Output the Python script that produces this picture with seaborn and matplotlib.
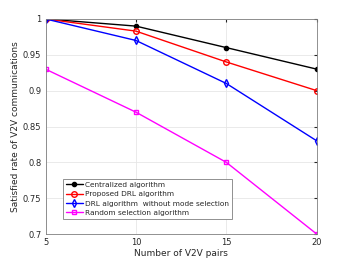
import numpy as np
import pandas as pd
import matplotlib
matplotlib.use('Agg')
import matplotlib.pyplot as plt
import seaborn as sns

pairs = [5, 10, 15, 20]
centralized = [1.0, 0.99, 0.96, 0.93]
proposed_drl = [1.0, 0.983, 0.94, 0.90]
drl_no_mode = [1.0, 0.97, 0.91, 0.83]
random_sel = [0.93, 0.87, 0.80, 0.70]

series = [
    ('Centralized algorithm', centralized, 'black', 'o', True, 3.0),
    ('Proposed DRL algorithm', proposed_drl, 'red', 'o', False, 4.0),
    ('DRL algorithm  without mode selection', drl_no_mode, 'blue', 'd', False, 4.0),
    ('Random selection algorithm', random_sel, 'magenta', 's', False, 3.5),
]

rows = []
for name, vals, *_ in series:
    for x, y in zip(pairs, vals):
        rows.append({'pairs': x, 'rate': y, 'algo': name})
df = pd.DataFrame(rows)

sns.set_style('whitegrid')
plt.rcParams['font.family'] = ['DejaVu Sans']

fig, ax = plt.subplots(figsize=(3.5, 2.63), dpi=100)
fig.subplots_adjust(left=0.13, right=0.905, top=0.928, bottom=0.11)

for name, vals, color, marker, filled, ms in series:
    sub = df[df['algo'] == name]
    sns.lineplot(data=sub, x='pairs', y='rate', ax=ax, color=color, marker=marker,
                 markersize=ms, linewidth=1.0, label=name,
                 markerfacecolor=color if filled else 'none',
                 markeredgecolor=color, markeredgewidth=1.0)

ax.set_xlim(5, 20)
ax.set_ylim(0.7, 1.0)
ax.set_xticks(pairs)
ax.set_yticks([0.7, 0.75, 0.8, 0.85, 0.9, 0.95, 1.0])
ax.set_yticklabels(['0.7', '0.75', '0.8', '0.85', '0.9', '0.95', '1'])
ax.tick_params(labelsize=6, colors='#262626', length=2, direction='in', pad=3,
               top=True, right=True)
ax.set_xlabel('Number of V2V pairs', fontsize=6.5, color='#262626', labelpad=1)
ax.set_ylabel('Satisfied rate of V2V communications', fontsize=6.5, color='#262626', labelpad=2)
ax.grid(True, color='#e6e6e6', linewidth=0.6)
for s in ax.spines.values():
    s.set_color('#7f7f7f')
    s.set_linewidth(0.6)

leg = ax.legend(loc='lower left', bbox_to_anchor=(0.055, 0.06), fontsize=5.3,
                frameon=True, fancybox=False, borderpad=0.4, labelspacing=0.45,
                handlelength=2.3, handletextpad=0.3, borderaxespad=0.3)
leg.get_frame().set_edgecolor('#7f7f7f')
leg.get_frame().set_linewidth(0.6)
leg.get_frame().set_alpha(1)

fig.savefig('out.png', dpi=100)
